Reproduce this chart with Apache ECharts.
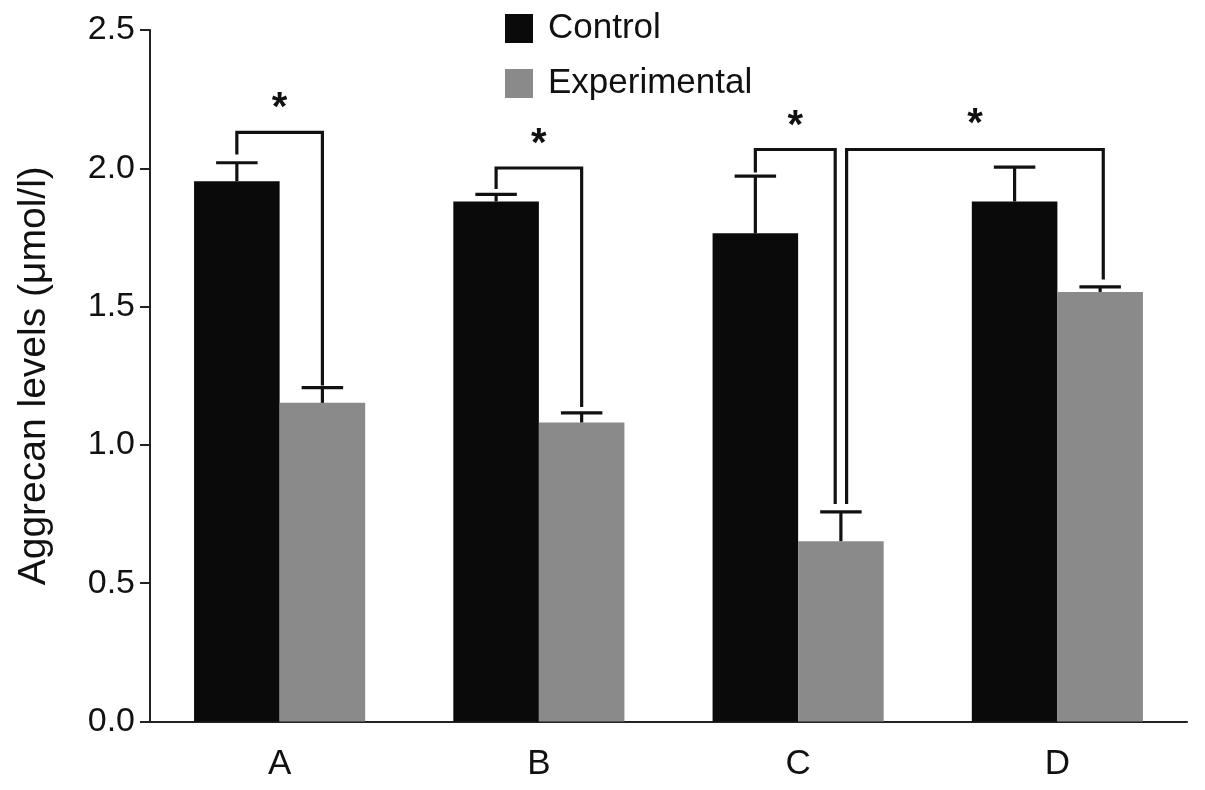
<!DOCTYPE html>
<html>
<head>
<meta charset="utf-8">
<script src="https://cdn.jsdelivr.net/npm/echarts@6/dist/echarts.min.js"></script>
<style>
html,body{margin:0;padding:0;background:#fff;}
#chart{width:1205px;height:790px;}
</style>
</head>
<body>
<div id="chart"></div>
<script>
const categories = ['A', 'B', 'C', 'D'];
const controlMean = [1.953, 1.880, 1.765, 1.880];
const controlUpper = [2.020, 1.906, 1.972, 2.004];
const expMean = [1.152, 1.081, 0.652, 1.553];
const expUpper = [1.207, 1.116, 0.758, 1.571];
const seriesNames = ['Control', 'Experimental'];
const yAxisTitle = 'Aggrecan levels (\u03bcmol/l)';
// significance brackets (x in category units, y in data units)
const bracketX1 = [-0.165, 0.835, 1.835, 2.187];
const bracketX2 = [0.165, 1.165, 2.143, 3.177];
const bracketTop = [2.130, 2.001, 2.068, 2.068];
const bracketLeftEnd = [2.050, 1.925, 1.985, 0.786];
const bracketRightEnd = [1.215, 1.137, 0.786, 1.598];
const starY = [2.215, 2.085, 2.150, 2.155];
const starText = ['*', '*', '*', '*'];

const FONT = '"Liberation Sans", Arial, Helvetica, sans-serif';
const BAR_OFFSET = 0.165;
const LINE = '#111';

function errorRender(offset) {
  return function (params, api) {
    const band = api.size([1, 0])[0];
    const c = api.coord([api.value(0), api.value(1)]);
    const h = api.coord([api.value(0), api.value(2)]);
    const x = c[0] + offset * band;
    const capW = band * 0.16;
    const st = { stroke: LINE, lineWidth: 3.2 };
    return {
      type: 'group',
      children: [
        { type: 'line', shape: { x1: x, y1: c[1], x2: x, y2: h[1] }, style: st },
        { type: 'line', shape: { x1: x - capW / 2, y1: h[1], x2: x + capW / 2, y2: h[1] }, style: st }
      ]
    };
  };
}

function bracketRender(params, api) {
  const i = params.dataIndex;
  const band = api.size([1, 0])[0];
  const base = api.coord([0, 0])[0];
  const xa = base + bracketX1[i] * band;
  const xb = base + bracketX2[i] * band;
  const yt = api.coord([0, bracketTop[i]])[1];
  const yl = api.coord([0, bracketLeftEnd[i]])[1];
  const yr = api.coord([0, bracketRightEnd[i]])[1];
  const ys = api.coord([0, starY[i]])[1];
  return {
    type: 'group',
    children: [
      { type: 'polyline', shape: { points: [[xa, yl], [xa, yt], [xb, yt], [xb, yr]] },
        style: { stroke: LINE, lineWidth: 3.2, fill: null } },
      { type: 'text', style: { text: starText[i], x: (xa + xb) / 2, y: ys,
        textAlign: 'center', textVerticalAlign: 'middle', fill: '#111',
        font: 'bold 40px ' + FONT } }
    ]
  };
}

const chart = echarts.init(document.getElementById('chart'));
chart.setOption({
  animation: false,
  backgroundColor: '#fff',
  textStyle: { fontFamily: FONT },
  grid: { left: 150, right: 18, top: 30, bottom: 68.5, containLabel: false },
  legend: {
    data: seriesNames,
    orient: 'vertical',
    left: 500, top: 6,
    icon: 'rect',
    itemWidth: 28, itemHeight: 29, itemGap: 20,
    textStyle: { fontSize: 35, color: '#111', fontFamily: FONT, padding: [0, 0, 0, 10] }
  },
  xAxis: {
    type: 'category',
    data: categories,
    axisLine: { lineStyle: { color: '#222', width: 2 } },
    axisTick: { alignWithLabel: true, length: 11, lineStyle: { color: '#222', width: 2 } },
    axisLabel: { fontSize: 35, color: '#111', margin: 25, fontFamily: FONT },
    splitLine: { show: false }
  },
  yAxis: {
    type: 'value',
    min: 0, max: 2.5, interval: 0.5,
    name: yAxisTitle,
    nameLocation: 'middle',
    nameGap: 96,
    nameTextStyle: { fontSize: 39, color: '#111', fontFamily: FONT },
    axisLine: { show: true, lineStyle: { color: '#222', width: 2 } },
    axisTick: { show: true, length: 10, lineStyle: { color: '#222', width: 2 } },
    axisLabel: { fontSize: 34, color: '#111', margin: 15, fontFamily: FONT,
      formatter: v => v.toFixed(1) },
    splitLine: { show: false }
  },
  series: [
    { name: seriesNames[0], type: 'bar', data: controlMean, barGap: 0, barCategoryGap: '34%',
      itemStyle: { color: '#0a0a0a' }, z: 2 },
    { name: seriesNames[1], type: 'bar', data: expMean, barGap: 0, barCategoryGap: '34%',
      itemStyle: { color: '#8a8a8a' }, z: 2 },
    { name: 'errControl', type: 'custom', renderItem: errorRender(-BAR_OFFSET),
      data: categories.map((c, i) => [i, controlMean[i], controlUpper[i]]), z: 3 },
    { name: 'errExp', type: 'custom', renderItem: errorRender(BAR_OFFSET),
      data: categories.map((c, i) => [i, expMean[i], expUpper[i]]), z: 3 },
    { name: 'brackets', type: 'custom', renderItem: bracketRender,
      data: bracketTop.map((t, i) => [0, t]), z: 4 }
  ]
});
</script>
</body>
</html>
